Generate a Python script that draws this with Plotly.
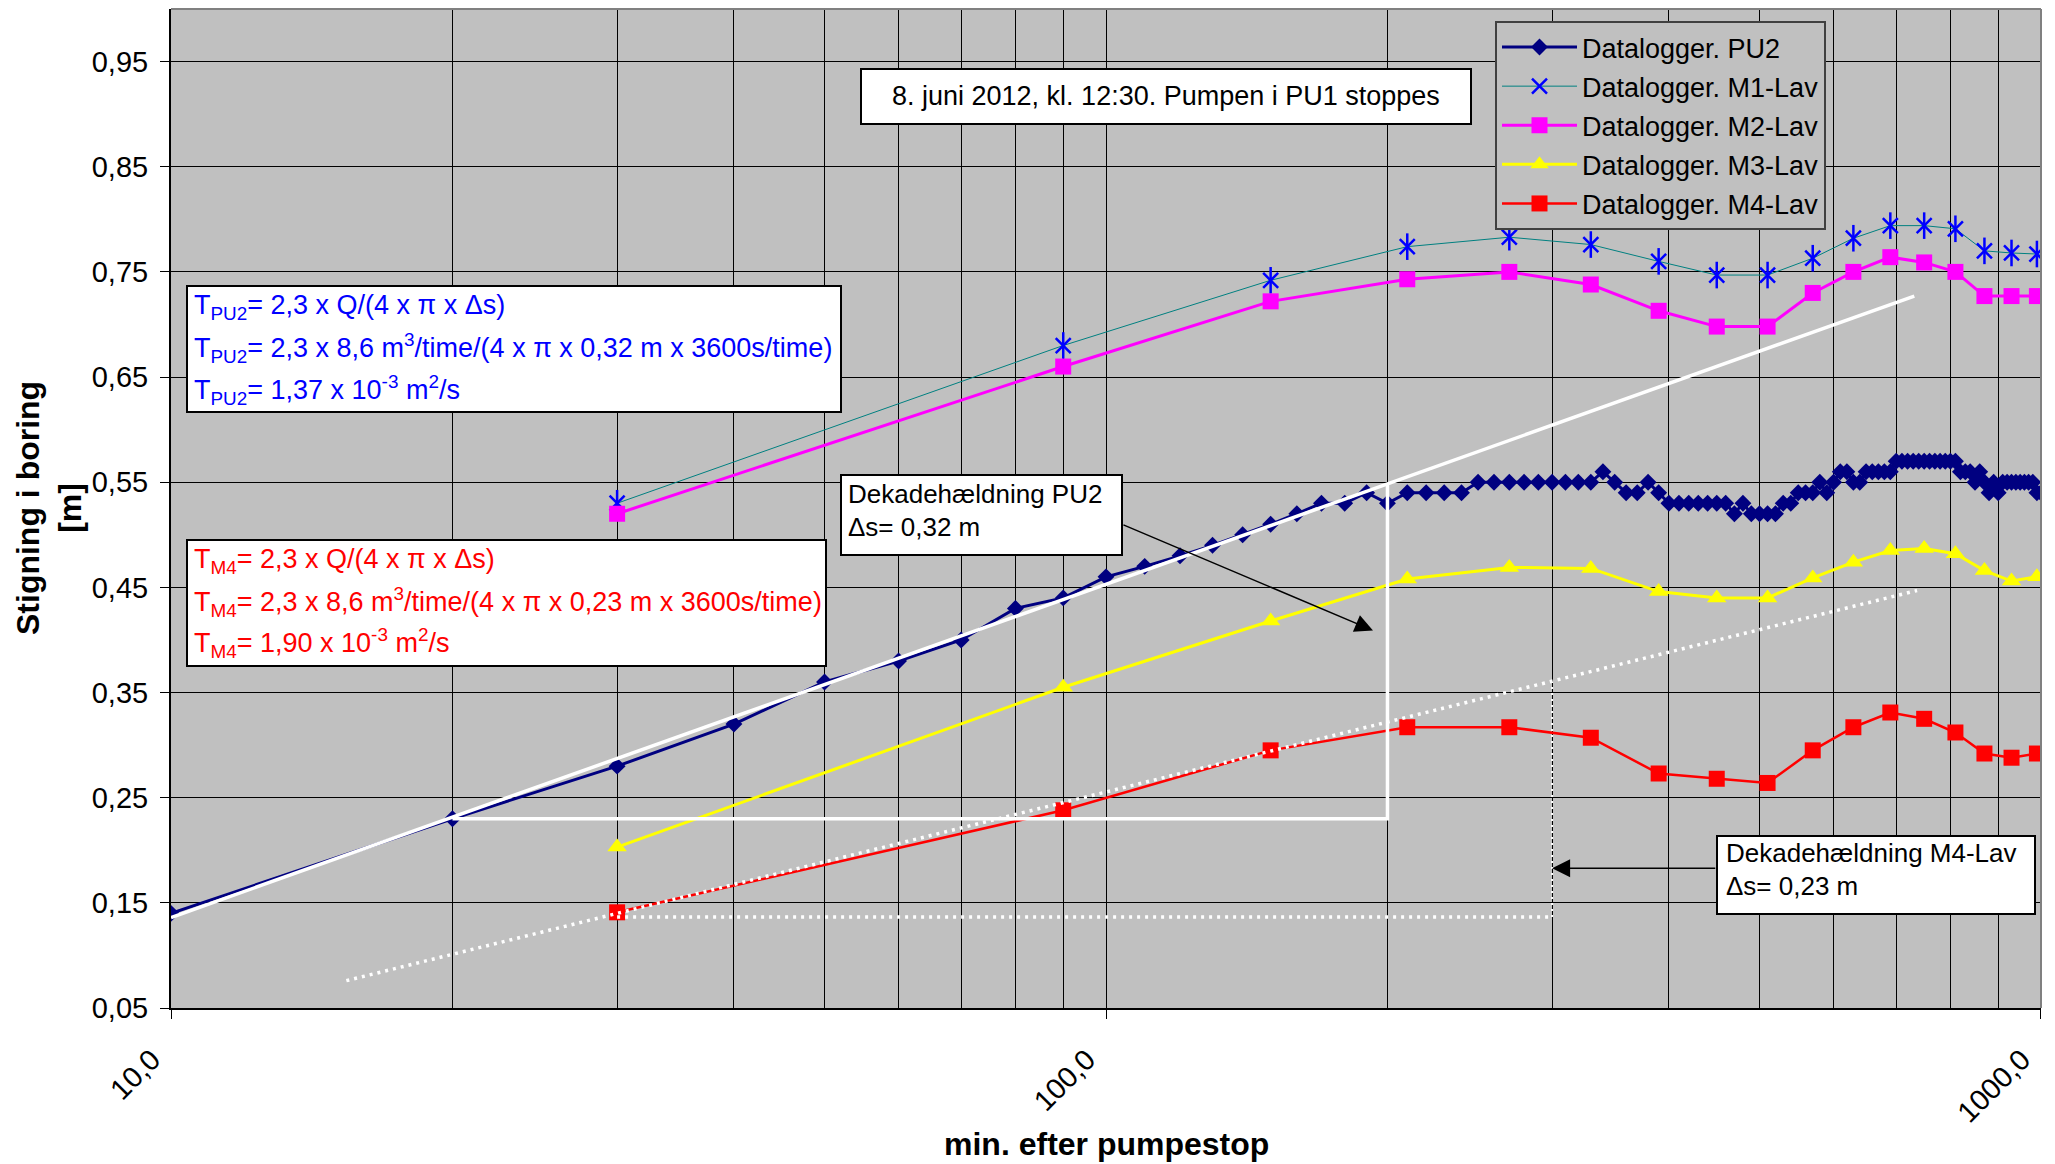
import numpy as np
import plotly.graph_objects as go

# ---------------- data ----------------
t_pu2 = list(range(10, 1001, 10))
pu2 = [0.14, 0.23, 0.28, 0.32, 0.36, 0.38, 0.40, 0.43, 0.44, 0.46,
       0.47, 0.48, 0.49, 0.50, 0.51, 0.52, 0.53, 0.53, 0.54, 0.53,
       0.54, 0.54, 0.54, 0.54, 0.55, 0.55, 0.55, 0.55, 0.55, 0.55,
       0.55, 0.55, 0.55, 0.56, 0.55, 0.54, 0.54, 0.55, 0.54, 0.53,
       0.53, 0.53, 0.53, 0.53, 0.53, 0.53, 0.52, 0.53, 0.52, 0.52,
       0.52, 0.52, 0.53, 0.53, 0.54, 0.54, 0.54, 0.55, 0.54, 0.55,
       0.56, 0.56, 0.55, 0.55, 0.56, 0.56, 0.56, 0.56, 0.56, 0.57,
       0.57, 0.57, 0.57, 0.57, 0.57, 0.57, 0.57, 0.57, 0.57, 0.57,
       0.57, 0.56, 0.56, 0.56, 0.55, 0.56, 0.55, 0.54, 0.55, 0.54,
       0.55, 0.55, 0.55, 0.55, 0.55, 0.55, 0.55, 0.55, 0.54, 0.54]

t_m = [30, 90, 150, 210, 270, 330, 390, 450, 510, 570, 630, 690, 750, 810, 870, 930, 990, 1050]
m1 = [0.530, 0.680, 0.742, 0.774, 0.783, 0.776, 0.760, 0.747, 0.747, 0.763, 0.782, 0.794,
      0.794, 0.791, 0.770, 0.768, 0.767, 0.757]
m2 = [0.520, 0.660, 0.722, 0.743, 0.750, 0.738, 0.713, 0.698, 0.698, 0.730, 0.750, 0.764,
      0.759, 0.750, 0.727, 0.727, 0.727, 0.711]
m3 = [0.203, 0.355, 0.418, 0.458, 0.469, 0.468, 0.446, 0.440, 0.440, 0.459, 0.474, 0.485,
      0.487, 0.482, 0.466, 0.456, 0.460, 0.451]
m4 = [0.141, 0.238, 0.295, 0.317, 0.317, 0.307, 0.273, 0.268, 0.264, 0.295, 0.317, 0.331,
      0.325, 0.312, 0.292, 0.288, 0.292, 0.275]

# construction lines
fit_pu2_x = [10, 732]
fit_pu2_y = [0.136, 0.727]
step_pu2_x = [20, 200, 200]
step_pu2_y = [0.23, 0.23, 0.548]
fit_m4_x = [15.4, 737]
fit_m4_y = [0.076, 0.447]
base_m4_x = [30, 300]
base_m4_y = [0.1365, 0.1365]
vert_m4_x = [300, 300]
vert_m4_y = [0.1365, 0.36]

x_tickvals = [10, 100, 1000]
x_ticktext = ["10,0", "100,0", "1000,0"]
x_minor = [20, 30, 40, 50, 60, 70, 80, 90, 200, 300, 400, 500, 600, 700, 800, 900]
y_tickvals = [0.05, 0.15, 0.25, 0.35, 0.45, 0.55, 0.65, 0.75, 0.85, 0.95]
y_ticktext = ["0,05", "0,15", "0,25", "0,35", "0,45", "0,55", "0,65", "0,75", "0,85", "0,95"]

FONT = "Liberation Sans, Arial, Helvetica, sans-serif"

fig = go.Figure()

fig.add_trace(go.Scatter(x=t_pu2, y=pu2, mode="lines+markers", name="Datalogger. PU2",
                         legendgroup="a",
                         line=dict(color="#000080", width=3),
                         marker=dict(symbol="diamond", size=13, color="#000080")))
fig.add_trace(go.Scatter(x=t_m, y=m1, mode="lines+markers", name="Datalogger. M1-Lav",
                         legendgroup="b",
                         line=dict(color="#008080", width=1),
                         marker=dict(symbol="x-thin-open", size=15, color="#0000FF",
                                     line=dict(color="#0000FF", width=2.5))))
fig.add_trace(go.Scatter(x=t_m, y=m1, mode="markers", showlegend=False, legendgroup="b",
                         hoverinfo="skip",
                         marker=dict(symbol="line-ns-open", size=19, color="#0000FF",
                                     line=dict(color="#0000FF", width=2.5))))
fig.add_trace(go.Scatter(x=t_m, y=m2, mode="lines+markers", name="Datalogger. M2-Lav",
                         legendgroup="c",
                         line=dict(color="#FF00FF", width=3),
                         marker=dict(symbol="square", size=16, color="#FF00FF")))
fig.add_trace(go.Scatter(x=t_m, y=m3, mode="lines+markers", name="Datalogger. M3-Lav",
                         legendgroup="d",
                         line=dict(color="#FFFF00", width=3),
                         marker=dict(symbol="triangle-up", size=17, color="#FFFF00")))
fig.add_trace(go.Scatter(x=t_m, y=m4, mode="lines+markers", name="Datalogger. M4-Lav",
                         legendgroup="e",
                         line=dict(color="#FF0000", width=2.5),
                         marker=dict(symbol="square", size=16, color="#FF0000")))

# white construction lines
fig.add_trace(go.Scatter(x=fit_pu2_x, y=fit_pu2_y, mode="lines", showlegend=False,
                         hoverinfo="skip", line=dict(color="white", width=3.5)))
fig.add_trace(go.Scatter(x=step_pu2_x, y=step_pu2_y, mode="lines", showlegend=False,
                         hoverinfo="skip", line=dict(color="white", width=3.5)))
fig.add_trace(go.Scatter(x=fit_m4_x, y=fit_m4_y, mode="lines", showlegend=False,
                         hoverinfo="skip", line=dict(color="white", width=3.5, dash="3px,5px")))
fig.add_trace(go.Scatter(x=base_m4_x, y=base_m4_y, mode="lines", showlegend=False,
                         hoverinfo="skip", line=dict(color="white", width=3.5, dash="3px,5px")))
fig.add_trace(go.Scatter(x=vert_m4_x, y=vert_m4_y, mode="lines", showlegend=False,
                         hoverinfo="skip", line=dict(color="white", width=2, dash="2px,4px")))

L, R, T, B = 171, 14, 9, 156
W, H = 2055, 1164
PW, PH = W - L - R, H - T - B


def px(xp):
    return (xp - L) / PW


def py(yp):
    return (H - B - yp) / PH


shapes = []
shapes.append(dict(type="line", xref="paper", yref="paper", x0=0, x1=1, y0=1, y1=1,
                   line=dict(color="#808080", width=2), layer="above"))
shapes.append(dict(type="line", xref="paper", yref="paper", x0=1, x1=1, y0=0, y1=1,
                   line=dict(color="#808080", width=2), layer="above"))


def box(x0, y0, x1, y1):
    shapes.append(dict(type="rect", xref="paper", yref="paper",
                       x0=px(x0), x1=px(x1), y0=py(y1), y1=py(y0),
                       fillcolor="white", line=dict(color="black", width=2), layer="above"))


box(187, 286, 841, 412)     # blue box
box(187, 540, 826, 666)     # red box
box(861, 69, 1471, 124)     # date box
box(841, 475, 1122, 555)    # dekade PU2
box(1717, 836, 2035, 914)   # dekade M4

ann = []


def txt(text, x, y, size=27, color="black", xanchor="left", **kw):
    ann.append(dict(text=text, xref="paper", yref="paper", x=px(x), y=py(y),
                    xanchor=xanchor, yanchor="middle", showarrow=False,
                    font=dict(family=FONT, size=size, color=color), **kw))


blue = "#0000FF"
txt("T<sub>PU2</sub>= 2,3 x Q/(4 x π x Δs)", 192, 307, color=blue)
txt("T<sub>PU2</sub>= 2,3 x 8,6 m<sup>3</sup>/time/(4 x π x 0,32 m x 3600s/time)", 192, 348, color=blue)
txt("T<sub>PU2</sub>= 1,37 x 10<sup>-3</sup> m<sup>2</sup>/s", 192, 390, color=blue)

red = "#FF0000"
txt("T<sub>M4</sub>= 2,3 x Q/(4 x π x Δs)", 192, 561, color=red)
txt("T<sub>M4</sub>= 2,3 x 8,6 m<sup>3</sup>/time/(4 x π x 0,23 m x 3600s/time)", 192, 602, color=red)
txt("T<sub>M4</sub>= 1,90 x 10<sup>-3</sup> m<sup>2</sup>/s", 192, 643, color=red)

txt("8. juni 2012, kl. 12:30. Pumpen i PU1 stoppes", 1166, 96, xanchor="center")

txt("Dekadehældning PU2", 846, 494, size=26)
txt("Δs= 0,32 m", 846, 527, size=26)
txt("Dekadehældning M4-Lav", 1724, 853, size=26)
txt("Δs= 0,23 m", 1724, 886, size=26)

# axis titles
txt("<b>min. efter pumpestop</b>", 1106, 1144, size=32, xanchor="center")
ann.append(dict(text="<b>Stigning i boring<br>[m]</b>", xref="paper", yref="paper",
                x=px(49), y=py(508), xanchor="center", yanchor="middle", textangle=-90,
                showarrow=False, font=dict(family=FONT, size=32, color="black")))

# arrows (data coordinates; log axis uses log10 for x)
ann.append(dict(text="", x=np.log10(193), y=0.409, xref="x", yref="y",
                ax=np.log10(104), ay=0.51, axref="x", ayref="y", showarrow=True,
                arrowhead=2, arrowsize=2.4, arrowwidth=1.5, arrowcolor="black"))
ann.append(dict(text="", x=np.log10(300), y=0.183, xref="x", yref="y",
                ax=np.log10(450), ay=0.183, axref="x", ayref="y", showarrow=True,
                arrowhead=2, arrowsize=2.4, arrowwidth=1.5, arrowcolor="black"))

fig.update_layout(
    width=W, height=H,
    margin=dict(l=L, r=R, t=T, b=B),
    paper_bgcolor="white",
    plot_bgcolor="#C0C0C0",
    font=dict(family=FONT, color="black"),
    shapes=shapes,
    annotations=ann,
    legend=dict(x=px(1495), y=py(21), xanchor="left", yanchor="top",
                bgcolor="#C0C0C0", bordercolor="#404040", borderwidth=2,
                font=dict(family=FONT, size=27, color="black"), itemwidth=75,
                tracegroupgap=1, entrywidth=280, entrywidthmode="pixels"),
    xaxis=dict(type="log", range=[0.99999, 3.00001], tickvals=x_tickvals, ticktext=x_ticktext,
               tickangle=-45, tickfont=dict(size=29, family=FONT, color="black"),
               ticks="outside", ticklen=9, tickwidth=1, tickcolor="black",
               ticklabelshift=-19, ticklabelstandoff=12,
               showgrid=True, gridcolor="black", gridwidth=1,
               minor=dict(tickvals=x_minor, showgrid=True, gridcolor="black",
                          gridwidth=1, ticks=""),
               showline=True, linecolor="black", linewidth=2, zeroline=False),
    yaxis=dict(range=[0.05, 1.0], tickvals=y_tickvals, ticktext=y_ticktext,
               tickfont=dict(size=29, family=FONT, color="black"),
               ticks="outside", ticklen=9, tickwidth=1, tickcolor="black",
               ticklabelstandoff=6,
               showgrid=True, gridcolor="black", gridwidth=1,
               showline=True, linecolor="black", linewidth=2, zeroline=False),
)

fig.write_html("out.html", config={"displayModeBar": False},
               post_script="document.body.style.margin='0';document.body.style.overflow='hidden';")
